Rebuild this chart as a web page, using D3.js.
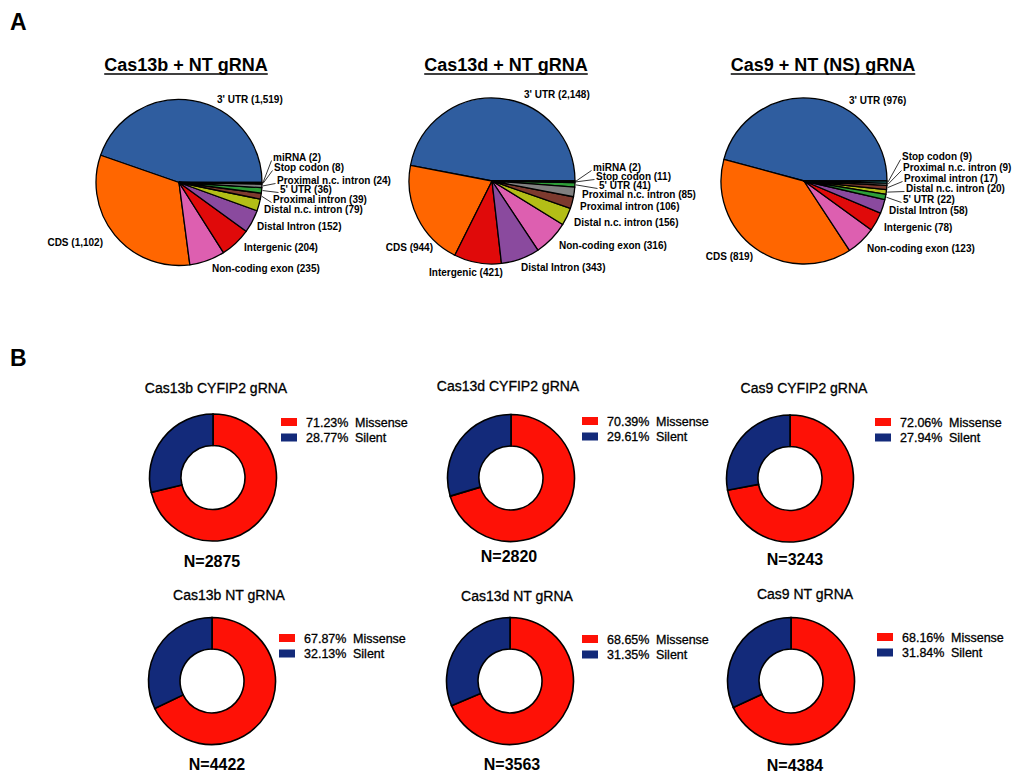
<!DOCTYPE html>
<html>
<head>
<meta charset="utf-8">
<script src="https://cdn.jsdelivr.net/npm/d3@7"></script>
<style>
  body { margin: 0; background: #fff; }
  svg { display: block; font-family: Arial, "Liberation Sans", Helvetica, sans-serif; }
  .med { stroke: #000; stroke-width: 0.3px; }
</style>
</head>
<body>
<svg id="fig" width="1012" height="773"></svg>
<script>
// ---------- Panel A: genomic region of off-target edits ----------
const regionCategories = [
  "3' UTR", "CDS", "Non-coding exon", "Intergenic", "Distal Intron",
  "Distal n.c. intron", "Proximal intron", "5' UTR", "Proximal n.c. intron",
  "Stop codon", "miRNA"
];
const regionColors = [
  "#2F5D9F", "#FF6600", "#DD5FB0", "#E00A0A", "#8A4A9E",
  "#B3BE17", "#7D3A2E", "#2E9E38", "#808080", "#2A9A9A", "#3B3B8F"
];
const pieTitles = ["Cas13b + NT gRNA", "Cas13d + NT gRNA", "Cas9 + NT (NS) gRNA"];
const cas13bNTCounts = [1519, 1102, 235, 204, 152, 79, 39, 36, 24, 8, 2];
const cas13dNTCounts = [2148, 944, 316, 421, 343, 156, 106, 41, 85, 11, 2];
const cas9NTCounts   = [976, 819, 123, 78, 58, 20, 17, 22, 9, 9, 0];
const pieCounts = [cas13bNTCounts, cas13dNTCounts, cas9NTCounts];

// ---------- Panel B: missense vs silent fractions ----------
const donutTitles = [
  "Cas13b CYFIP2 gRNA", "Cas13d CYFIP2 gRNA", "Cas9 CYFIP2 gRNA",
  "Cas13b NT gRNA", "Cas13d NT gRNA", "Cas9 NT gRNA"
];
const mutationClasses = ["Missense", "Silent"];
const mutationColors = ["#FE1106", "#132A7A"];
const missensePct = [71.23, 70.39, 72.06, 67.87, 68.65, 68.16];
const silentPct   = [28.77, 29.61, 27.94, 32.13, 31.35, 31.84];
const donutN      = [2875, 2820, 3243, 4422, 3563, 4384];

// ---------- layout ----------
const pieRadius = 83;
const pieLayout = [
  { cx: 179, cy: 182.5, titleX: 186 },
  { cx: 492, cy: 181,   titleX: 506 },
  { cx: 804, cy: 181,   titleX: 823 }
];
// label placement relative to each pie centre: [dx, dy, anchor, leaderLine]
const pieLabelLayout = [
  {
    "3' UTR": [38, -83, "start"], "CDS": [-76, 59.5, "end"],
    "Non-coding exon": [33, 85.5, "start"], "Intergenic": [65, 64.5, "start"],
    "Distal Intron": [78, 43.5, "start"], "Distal n.c. intron": [85, 26.5, "start"],
    "Proximal intron": [94, 16.5, "start", true], "5' UTR": [101, 6.5, "start", true],
    "Proximal n.c. intron": [98, -2.5, "start", true], "Stop codon": [95, -15.5, "start", true],
    "miRNA": [94, -25.5, "start", true]
  },
  {
    "3' UTR": [32, -87, "start"], "CDS": [-59, 66, "end"],
    "Intergenic": [-63, 91, "start"], "Distal Intron": [29, 86, "start"],
    "Non-coding exon": [67, 64, "start"], "Distal n.c. intron": [82, 41, "start"],
    "Proximal intron": [88, 25, "start"], "Proximal n.c. intron": [90, 13, "start"],
    "5' UTR": [107, 4, "start", true], "Stop codon": [104, -5, "start", true],
    "miRNA": [101, -14, "start", true]
  },
  {
    "3' UTR": [45, -81, "start"], "CDS": [-51, 75, "end"],
    "Non-coding exon": [63, 67, "start"], "Intergenic": [80, 46, "start"],
    "Distal Intron": [85, 29, "start"], "5' UTR": [99, 18, "start", true],
    "Distal n.c. intron": [102, 7, "start", true], "Proximal intron": [100, -3, "start", true],
    "Proximal n.c. intron": [99, -14, "start", true], "Stop codon": [98, -25, "start", true]
  }
];

const donutOuter = 63.5, donutInner = 32;
const donutLayout = [
  { cx: 213, cy: 477.5, tx: 216, ty: 388, lx: 281, ly: 418, nx: 212, ny: 561 },
  { cx: 511, cy: 478,   tx: 508, ty: 386, lx: 582, ly: 417, nx: 509, ny: 556 },
  { cx: 790, cy: 478.5, tx: 804, ty: 388, lx: 875, ly: 418, nx: 795, ny: 559 },
  { cx: 212, cy: 681,   tx: 229, ty: 595, lx: 279, ly: 634, nx: 217, ny: 764 },
  { cx: 510, cy: 681,   tx: 517, ty: 596, lx: 582, ly: 635, nx: 512, ny: 764 },
  { cx: 791, cy: 681,   tx: 805, ty: 594, lx: 877, ly: 633, nx: 795, ny: 765 }
];

const svg = d3.select("#fig");

// panel letters
svg.append("text").attr("x", 10).attr("y", 30).attr("font-size", 23).attr("font-weight", "bold").text("A");
svg.append("text").attr("x", 10).attr("y", 366).attr("font-size", 23).attr("font-weight", "bold").text("B");

// ---------- pies ----------
const pieGen = d3.pie()
  .value(d => d.value)
  .startAngle(Math.PI / 2)
  .endAngle(Math.PI / 2 - 2 * Math.PI);
const pieArc = d3.arc().innerRadius(0).outerRadius(pieRadius);

pieCounts.forEach((counts, i) => {
  const lay = pieLayout[i];
  const data = regionCategories
    .map((cat, k) => ({ cat, value: counts[k], color: regionColors[k] }))
    .filter(d => d.value > 0);
  const arcs = pieGen(data);

  // title with underline
  const title = svg.append("text")
    .attr("x", lay.titleX).attr("y", 71)
    .attr("text-anchor", "middle")
    .attr("font-size", 18).attr("font-weight", "bold")
    .text(pieTitles[i]);
  const tw = title.node().getComputedTextLength();
  svg.append("line")
    .attr("x1", lay.titleX - tw / 2).attr("x2", lay.titleX + tw / 2)
    .attr("y1", 74).attr("y2", 74)
    .attr("stroke", "#000").attr("stroke-width", 1.6);

  const g = svg.append("g").attr("transform", `translate(${lay.cx},${lay.cy})`);
  g.selectAll("path.slice")
    .data(arcs)
    .join("path")
    .attr("class", "slice")
    .attr("d", pieArc)
    .attr("fill", d => d.data.color)
    .attr("stroke", "#000")
    .attr("stroke-width", 1.3)
    .attr("stroke-linejoin", "round");

  const labels = pieLabelLayout[i];
  arcs.forEach(a => {
    const spec = labels[a.data.cat];
    if (!spec) return;
    const [dx, dy, anchor, leader] = spec;
    if (leader) {
      const mid = (a.startAngle + a.endAngle) / 2;
      const x0 = Math.sin(mid) * (pieRadius + 1);
      const y0 = -Math.cos(mid) * (pieRadius + 1);
      g.append("line")
        .attr("x1", x0).attr("y1", y0)
        .attr("x2", dx - 1.5).attr("y2", dy + 3.5)
        .attr("stroke", "#000").attr("stroke-width", 0.8);
    }
    g.append("text")
      .attr("x", dx).attr("y", dy + 3.6)
      .attr("text-anchor", anchor)
      .attr("font-size", 10).attr("font-weight", "bold")
      .text(`${a.data.cat} (${d3.format(",")(a.data.value)})`);
  });
});

// ---------- donuts ----------
const donutGen = d3.pie().sort(null).value(d => d.value);
const donutArc = d3.arc().innerRadius(donutInner).outerRadius(donutOuter);

donutTitles.forEach((t, i) => {
  const lay = donutLayout[i];
  const vals = [missensePct[i], silentPct[i]];
  const data = mutationClasses.map((c, k) => ({ cls: c, value: vals[k], color: mutationColors[k] }));

  svg.append("text")
    .attr("class", "med")
    .attr("x", lay.tx).attr("y", lay.ty + 5)
    .attr("text-anchor", "middle")
    .attr("font-size", 14)
    .text(t);

  const g = svg.append("g").attr("transform", `translate(${lay.cx},${lay.cy})`);
  g.selectAll("path")
    .data(donutGen(data))
    .join("path")
    .attr("d", donutArc)
    .attr("fill", d => d.data.color)
    .attr("stroke", "#000")
    .attr("stroke-width", 1.6);

  // legend
  data.forEach((d, k) => {
    const y = lay.ly + k * 15.5;
    svg.append("rect")
      .attr("x", lay.lx).attr("y", y)
      .attr("width", 16).attr("height", 8)
      .attr("fill", d.color);
    svg.append("text")
      .attr("class", "med")
      .attr("x", lay.lx + 25).attr("y", y + 8.5)
      .attr("font-size", 12.5)
      .text(`${d.value.toFixed(2)}%`);
    svg.append("text")
      .attr("class", "med")
      .attr("x", lay.lx + 74).attr("y", y + 8.5)
      .attr("font-size", 12.5)
      .text(d.cls);
  });

  svg.append("text")
    .attr("x", lay.nx).attr("y", lay.ny + 6)
    .attr("text-anchor", "middle")
    .attr("font-size", 16).attr("font-weight", "bold")
    .text(`N=${donutN[i]}`);
});
</script>
</body>
</html>
